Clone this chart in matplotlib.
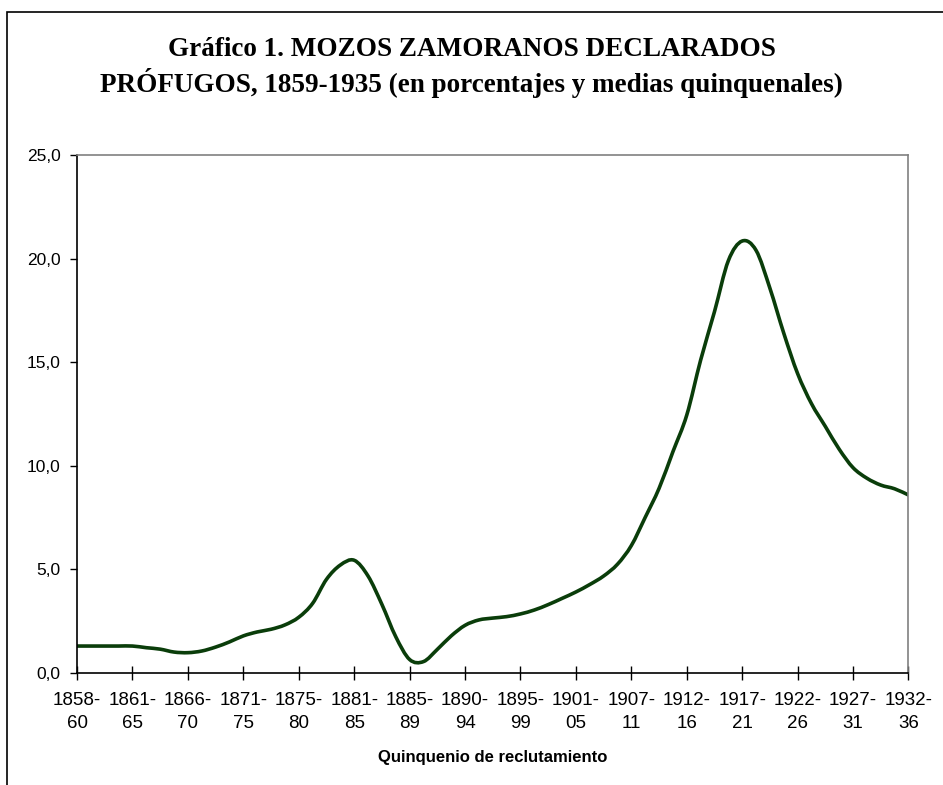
import numpy as np
import matplotlib
matplotlib.use("Agg")
import matplotlib.pyplot as plt
from matplotlib.patches import Rectangle, PathPatch
from matplotlib.path import Path
from matplotlib.ticker import FuncFormatter

# quinquennium labels on the category axis
periods = ["1858-\n60", "1861-\n65", "1866-\n70", "1871-\n75", "1875-\n80", "1881-\n85",
           "1885-\n89", "1890-\n94", "1895-\n99", "1901-\n05", "1907-\n11", "1912-\n16",
           "1917-\n21", "1922-\n26", "1927-\n31", "1932-\n36"]

# percentage of declared fugitives at quarter-period steps
pct = [1.30, 1.30, 1.30, 1.30, 1.30, 1.22, 1.15, 1.01, 0.98, 1.06,
       1.25, 1.50, 1.79, 1.98, 2.11, 2.32, 2.69, 3.36, 4.52, 5.21,
       5.44, 4.68, 3.31, 1.75, 0.65, 0.55, 1.14, 1.79, 2.30, 2.56,
       2.65, 2.72, 2.85, 3.04, 3.30, 3.60, 3.91, 4.27, 4.68, 5.25,
       6.15, 7.51, 8.91, 10.68, 12.45, 15.10, 17.44, 19.90, 20.85, 20.40,
       18.57, 16.40, 14.45, 13.00, 11.90, 10.80, 9.91, 9.40, 9.07, 8.89,
       8.59]

x = np.linspace(0, len(periods) - 1, len(pct))
y = np.array(pct)

fig = plt.figure(figsize=(9.43, 7.85), dpi=100)
ax = fig.add_axes([0.0817, 0.1427, 0.8817, 0.6598])

# smoothed line like a spreadsheet "smoothed line": bezier segments through the points
xp = np.concatenate([[x[0]], x, [x[-1]]])
yp = np.concatenate([[y[0]], y, [y[-1]]])
verts = [(x[0], y[0])]
codes = [Path.MOVETO]
for i in range(1, len(xp) - 2):
    c1 = (xp[i] + (xp[i + 1] - xp[i - 1]) / 6, yp[i] + (yp[i + 1] - yp[i - 1]) / 6)
    c2 = (xp[i + 1] - (xp[i + 2] - xp[i]) / 6, yp[i + 1] - (yp[i + 2] - yp[i]) / 6)
    verts += [c1, c2, (xp[i + 1], yp[i + 1])]
    codes += [Path.CURVE4] * 3
ax.add_patch(PathPatch(Path(verts, codes), facecolor="none", edgecolor="#0a3d0a",
                       linewidth=2.6, capstyle="round", joinstyle="round"))

ax.set_xlim(0, len(periods) - 1)
ax.set_ylim(0, 25)
ax.set_xticks(range(len(periods)))
ax.set_xticklabels(periods, family="Liberation Sans", fontsize=13.5, linespacing=1.4)
ax.set_yticks(np.arange(0, 26, 5))
ax.yaxis.set_major_formatter(FuncFormatter(lambda v, p: f"{v:.1f}".replace(".", ",")))
for lab in ax.get_yticklabels():
    lab.set_family("Liberation Sans")
    lab.set_fontsize(12.5)

ax.tick_params(axis="x", direction="inout", length=10, width=1, pad=9)
ax.tick_params(axis="y", direction="out", length=5, width=1, pad=7)
ax.spines["left"].set_color("black")
ax.spines["bottom"].set_color("black")
ax.spines["top"].set_color("#808080")
ax.spines["right"].set_color("#808080")
for s in ax.spines.values():
    s.set_linewidth(1.2)

ax.set_xlabel("Quinquenio de reclutamiento", family="Liberation Sans", fontsize=12,
              fontweight="bold", labelpad=13)

fig.text(0.5, 0.914, "Gráfico 1. MOZOS ZAMORANOS DECLARADOS\nPRÓFUGOS, 1859-1935 (en porcentajes y medias quinquenales)",
         ha="center", va="center", family="Liberation Serif", fontweight="bold",
         fontsize=19.5, linespacing=1.25)

# outer frame of the chart area (only top and left edges show)
fig.add_artist(Rectangle((7 / 943, -0.5), 2.0, 0.5 + 1 - 12 / 785, transform=fig.transFigure,
                         fill=False, edgecolor="black", linewidth=1.2, clip_on=False))

fig.savefig("out.png", dpi=100)
